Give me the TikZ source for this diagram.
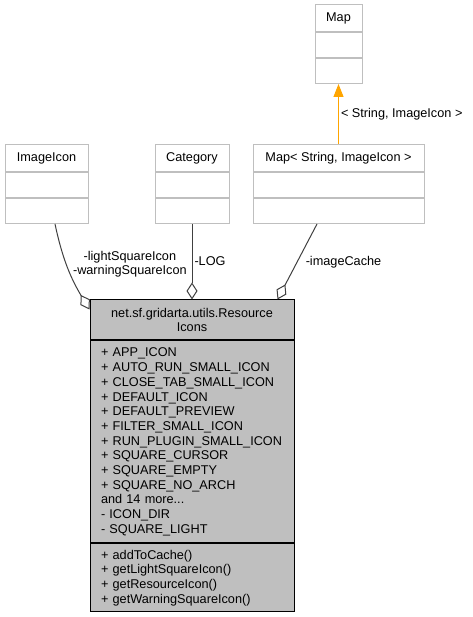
\documentclass[tikz,border=0pt]{standalone}
\usepackage{fontspec}
\setmainfont{Liberation Sans}
\usepackage{tikz}
\usetikzlibrary{shapes,positioning,arrows.meta}
\definecolor{boxgray}{HTML}{BFBFBF}
\definecolor{edgegray}{HTML}{404040}
\definecolor{inhorange}{HTML}{FFA500}
\tikzset{part/.style={rectangle,draw=boxgray,fill=white,line width=1,inner sep=0pt,minimum height=25,font=\fontsize{12.7}{14.7}\selectfont}}
\tikzset{head/.style={part,minimum height=27}}
\tikzset{mpart/.style={rectangle,draw=black,fill=boxgray,line width=1,inner sep=0pt,minimum width=204,font=\fontsize{12.7}{14.7}\selectfont}}
\tikzset{aggr/.style={draw=edgegray,line width=1,{Diamond[open,length=17,width=11]}-}}
\tikzset{lbl/.style={font=\fontsize{12.7}{14}\selectfont,inner sep=2pt,align=center}}

\begin{document}
\begin{tikzpicture}[x=1pt,y=1pt]
    \useasboundingbox (0,0) rectangle (472,617);

    \node[head,minimum width=47] (map) at (338.5,599) {Map};
    \node[part,minimum width=47,below=0pt of map] (map-a) {};
    \node[part,minimum width=47,below=0pt of map-a] (map-b) {};

    \node[head,minimum width=83] (imageicon) at (46.5,459) {ImageIcon};
    \node[part,minimum width=83,below=0pt of imageicon] (imageicon-a) {};
    \node[part,minimum width=83,below=0pt of imageicon-a] (imageicon-b) {};

    \node[head,minimum width=74] (category) at (192,459) {Category};
    \node[part,minimum width=74,below=0pt of category] (category-a) {};
    \node[part,minimum width=74,below=0pt of category-a] (category-b) {};

    \node[head,minimum width=171] (mapsi) at (338.5,459) {Map< String, ImageIcon >};
    \node[part,minimum width=171,below=0pt of mapsi] (mapsi-a) {};
    \node[part,minimum width=171,below=0pt of mapsi-a] (mapsi-b) {};

    \node[mpart,minimum height=40,align=center] (main) at (192,297) {net.sf.gridarta.utils.Resource\\Icons};
    \node[mpart,minimum height=202,text width=182,align=left,below=0pt of main] (main-a) {%
        +~APP\_ICON\\
        +~AUTO\_RUN\_SMALL\_ICON\\
        +~CLOSE\_TAB\_SMALL\_ICON\\
        +~DEFAULT\_ICON\\
        +~DEFAULT\_PREVIEW\\
        +~FILTER\_SMALL\_ICON\\
        +~RUN\_PLUGIN\_SMALL\_ICON\\
        +~SQUARE\_CURSOR\\
        +~SQUARE\_EMPTY\\
        +~SQUARE\_NO\_ARCH\\
        and 14 more...\\
        -~ICON\_DIR\\
        -~SQUARE\_LIGHT};
    \node[mpart,minimum height=68,text width=182,align=left,below=0pt of main-a] (main-b) {%
        + addToCache()\\
        + getLightSquareIcon()\\
        + getResourceIcon()\\
        + getWarningSquareIcon()};

    \coordinate (agg1) at ([yshift=-10]main.north west);
    \coordinate (agg3) at ([xshift=-17]main.north east);

    \draw [aggr] (agg1) to [out=121,in=-78]node[lbl,right,pos=0.55,xshift=4]{-lightSquareIcon\\-warningSquareIcon} ([xshift=8.5]imageicon-b.south);
    \draw [aggr] (main.north) to []node[lbl,right,pos=0.51]{-LOG} (category-b.south);
    \draw [aggr] (agg3) to []node[lbl,right,pos=0.5,xshift=6]{-imageCache} ([xshift=-21.5]mapsi-b.south);
    \draw [-{Triangle[length=13,width=10]},inhorange,line width=1] (mapsi.north) to []node[lbl,right,pos=0.5,text=black]{< String, ImageIcon >} (map-b.south);
\end{tikzpicture}
\end{document}
